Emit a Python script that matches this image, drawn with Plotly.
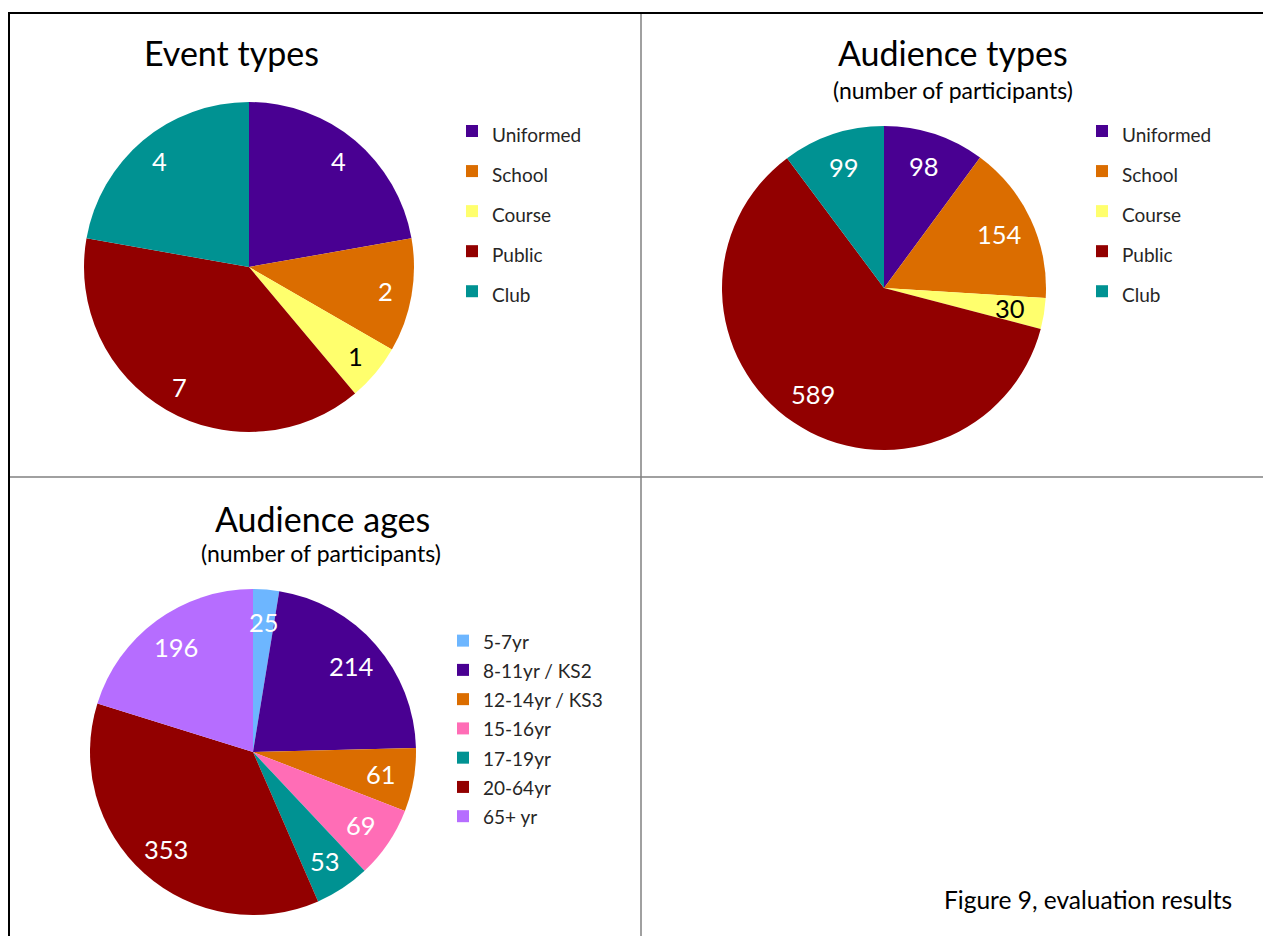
import math
import plotly.graph_objects as go

W, H = 1263, 936

# ---- data ----
event_labels = ["Uniformed", "School", "Course", "Public", "Club"]
event_values = [4, 2, 1, 7, 4]

aud_labels = ["Uniformed", "School", "Course", "Public", "Club"]
aud_values = [98, 154, 30, 589, 99]

age_labels = ["5-7yr", "8-11yr / KS2", "12-14yr / KS3", "15-16yr", "17-19yr", "20-64yr", "65+ yr"]
age_values = [25, 214, 61, 69, 53, 353, 196]

# ---- styles ----
type_colors = ["#490092", "#db6d00", "#ffff6d", "#920000", "#009292"]
type_text = ["white", "white", "black", "white", "white"]
age_colors = ["#6db6ff", "#490092", "#db6d00", "#ff6db6", "#009292", "#920000", "#b66dff"]
age_text = ["white"] * 7
FONT = "Lato, 'Open Sans', sans-serif"


def px(x):
    return x / W


def py(y):
    return 1 - y / H


def dom(cx, cy, r):
    return dict(x=[px(cx - r), px(cx + r)], y=[py(cy + r), py(cy - r)])


def leg_labels(labels):
    return ['<span style="font-size:19px">%s</span>' % l for l in labels]


def value_labels(values, colors, cx, cy, r, frac):
    """Data labels at the slice mid-angle (clockwise from 12 o'clock), 'inside end' style."""
    total = float(sum(values))
    out = []
    cum = 0.0
    for v, c in zip(values, colors):
        mid = (cum + v / 2.0) / total * 2 * math.pi
        cum += v
        x = cx + frac * r * math.sin(mid)
        y = cy - frac * r * math.cos(mid)
        out.append(dict(text=str(v), x=px(x), y=py(y), xref="paper", yref="paper",
                        showarrow=False, xanchor="center", yanchor="middle",
                        font=dict(size=25.5, family=FONT, color=c)))
    return out


fig = go.Figure()

pies = [
    (event_labels, event_values, type_colors, type_text, (249, 267, 165), 0.84, "legend", "g1"),
    (aud_labels, aud_values, type_colors, type_text, (884, 288, 162), 0.79, "legend2", "g2"),
    (age_labels, age_values, age_colors, age_text, (253, 752, 163), 0.80, "legend3", "g3"),
]

annotations = []
for labels, values, colors, tcols, (cx, cy, r), frac, leg, grp in pies:
    fig.add_trace(go.Pie(
        labels=leg_labels(labels), values=values, sort=False, direction="clockwise",
        rotation=0, marker=dict(colors=colors), textinfo="none",
        domain=dom(cx, cy, r), legend=leg, legendgroup=grp, hoverinfo="label+value"))
    annotations += value_labels(values, tcols, cx, cy, r, frac)

leg_common = dict(xanchor="left", yanchor="top", bgcolor="rgba(0,0,0,0)",
                  font=dict(family=FONT, color="#262626"))

shapes = [
    dict(type="line", xref="paper", yref="paper", x0=px(8), x1=1, y0=py(13), y1=py(13),
         line=dict(color="black", width=2)),
    dict(type="line", xref="paper", yref="paper", x0=px(9), x1=px(9), y0=py(13), y1=0,
         line=dict(color="black", width=2)),
    dict(type="line", xref="paper", yref="paper", x0=px(641), x1=px(641), y0=py(14), y1=0,
         line=dict(color="#808080", width=1.5)),
    dict(type="line", xref="paper", yref="paper", x0=px(10), x1=1, y0=py(477), y1=py(477),
         line=dict(color="#808080", width=1.5)),
]

titles = [
    dict(text="Event types", x=px(231), y=py(52), font=dict(size=34, family=FONT, color="black")),
    dict(text="Audience types", x=px(953), y=py(52), font=dict(size=34, family=FONT, color="black")),
    dict(text="(number of participants)", x=px(953), y=py(90), font=dict(size=23, family=FONT, color="black")),
    dict(text="Audience ages", x=px(322), y=py(518), font=dict(size=34, family=FONT, color="black")),
    dict(text="(number of participants)", x=px(321), y=py(553), font=dict(size=23, family=FONT, color="black")),
    dict(text="Figure 9, evaluation results", x=px(1088), y=py(899), font=dict(size=24.5, family=FONT, color="black")),
]
for a in titles:
    a.update(xref="paper", yref="paper", showarrow=False, xanchor="center", yanchor="middle")
annotations = titles + annotations

fig.update_layout(
    width=W, height=H, margin=dict(l=0, r=0, t=0, b=0),
    paper_bgcolor="white", plot_bgcolor="white",
    showlegend=True,
    legend=dict(x=px(452), y=py(106), **leg_common),
    legend2=dict(x=px(1082), y=py(106), **leg_common),
    legend3=dict(x=px(443), y=py(621), **leg_common),
    shapes=shapes, annotations=annotations,
)
fig.update_layout(legend_font_size=28.5, legend2_font_size=28.5, legend3_font_size=20.2)

fig.write_html("out.html", config={"displayModeBar": False},
               post_script="document.body.style.margin='0';document.body.style.overflow='hidden';")
